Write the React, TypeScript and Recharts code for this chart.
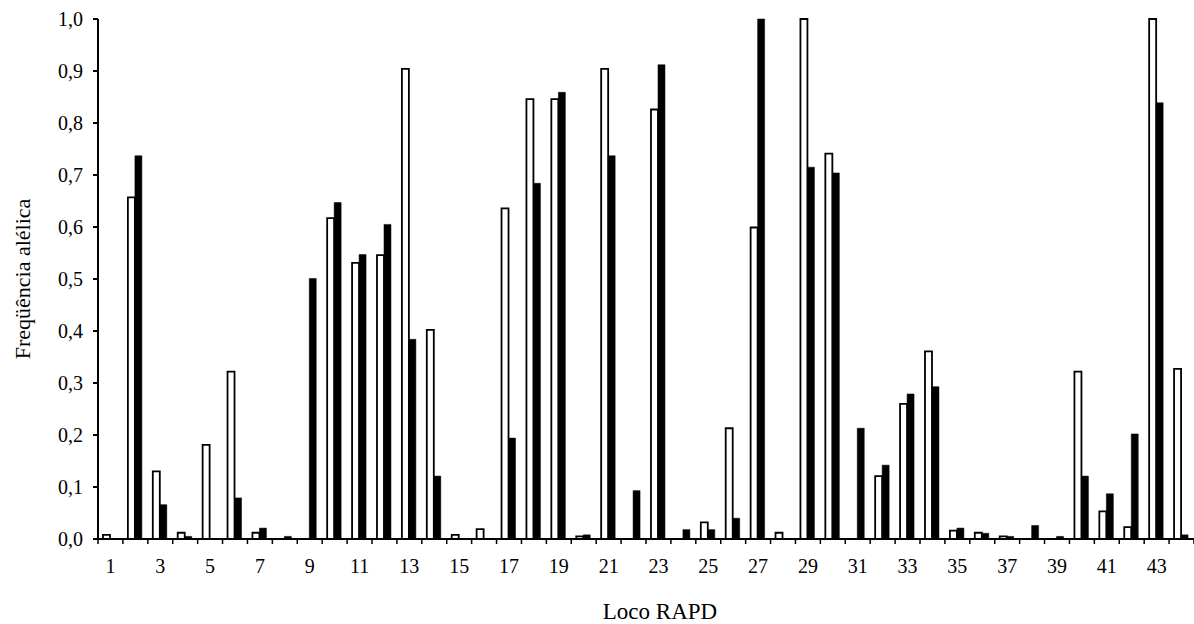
import { BarChart, Bar, XAxis, YAxis } from "recharts";

const locos = [
  1, 2, 3, 4, 5, 6, 7, 8, 9, 10, 11, 12, 13, 14, 15, 16, 17, 18, 19, 20, 21, 22,
  23, 24, 25, 26, 27, 28, 29, 30, 31, 32, 33, 34, 35, 36, 37, 38, 39, 40, 41, 42, 43, 44,
];

// white bars (outlined)
const freqA = [
  0.008, 0.657, 0.13, 0.012, 0.181, 0.322, 0.012, 0, 0, 0.617, 0.531, 0.546, 0.904, 0.402,
  0.008, 0.019, 0.636, 0.846, 0.846, 0.005, 0.904, 0, 0.826, 0, 0.032, 0.213, 0.599, 0.012,
  1.0, 0.741, 0, 0.121, 0.26, 0.361, 0.016, 0.012, 0.005, 0, 0, 0.322, 0.053, 0.023, 1.0, 0.327,
];

// black bars
const freqB = [
  0, 0.737, 0.066, 0.005, 0, 0.079, 0.021, 0.005, 0.501, 0.647, 0.547, 0.605, 0.384, 0.121,
  0, 0, 0.194, 0.684, 0.859, 0.008, 0.737, 0.093, 0.912, 0.018, 0.018, 0.04, 1.0, 0, 0.715,
  0.704, 0.213, 0.142, 0.279, 0.293, 0.021, 0.011, 0.005, 0.026, 0.005, 0.121, 0.087, 0.202,
  0.839, 0.008,
];

const yTicks = [0, 0.1, 0.2, 0.3, 0.4, 0.5, 0.6, 0.7, 0.8, 0.9, 1.0];

const data = locos.map((loco, i) => ({ loco, a: freqA[i], b: freqB[i] }));

const font = "'Liberation Serif', 'Times New Roman', serif";
const tickStyle = { fill: "#000", fontSize: 20, fontFamily: font };

// tick marks sit on the category boundaries, labels only on odd loci
function LocoTick(props: any) {
  const { x, y, payload, index } = props;
  const half = payload.offset || 0;
  const last = index === locos.length - 1;
  return (
    <g>
      <line x1={x - half} x2={x - half} y1={y} y2={y + 5} stroke="#000" strokeWidth={1.5} />
      {last && (
        <line x1={x + half} x2={x + half} y1={y} y2={y + 5} stroke="#000" strokeWidth={1.5} />
      )}
      {index % 2 === 0 && (
        <text x={x} y={y + 34} textAnchor="middle" {...tickStyle}>
          {payload.value}
        </text>
      )}
    </g>
  );
}

export default function App() {
  return (
    <div style={{ position: "absolute", left: 0, top: 0, background: "#fff" }}>
      <BarChart
        width={1194}
        height={624}
        data={data}
        margin={{ top: 19, right: 0, bottom: 0, left: 0 }}
        barCategoryGap="20%"
        barGap={0}
      >
        <XAxis
          dataKey="loco"
          type="category"
          interval={0}
          height={85}
          axisLine={{ stroke: "#000", strokeWidth: 2 }}
          tickLine={false}
          tickSize={0}
          tickMargin={0}
          tick={<LocoTick />}
          label={{
            value: "Loco RAPD",
            position: "insideBottom",
            offset: 5,
            dx: 14,
            style: { fill: "#000", fontSize: 23, fontFamily: font },
          }}
        />
        <YAxis
          width={98}
          domain={[0, 1]}
          ticks={yTicks}
          interval={0}
          tickFormatter={(v: number) => v.toFixed(1).replace(".", ",")}
          tick={tickStyle}
          tickSize={5}
          tickMargin={10}
          axisLine={{ stroke: "#000", strokeWidth: 2 }}
          tickLine={{ stroke: "#000", strokeWidth: 2 }}
          label={{
            value: "Freqüência alélica",
            angle: -90,
            position: "insideLeft",
            offset: 22,
            style: { textAnchor: "middle", fill: "#000", fontSize: 22, fontFamily: font },
          }}
        />
        <Bar dataKey="a" fill="#fff" stroke="#000" strokeWidth={1.8} isAnimationActive={false} />
        <Bar dataKey="b" fill="#000" stroke="#000" strokeWidth={0.5} isAnimationActive={false} />
      </BarChart>
    </div>
  );
}
